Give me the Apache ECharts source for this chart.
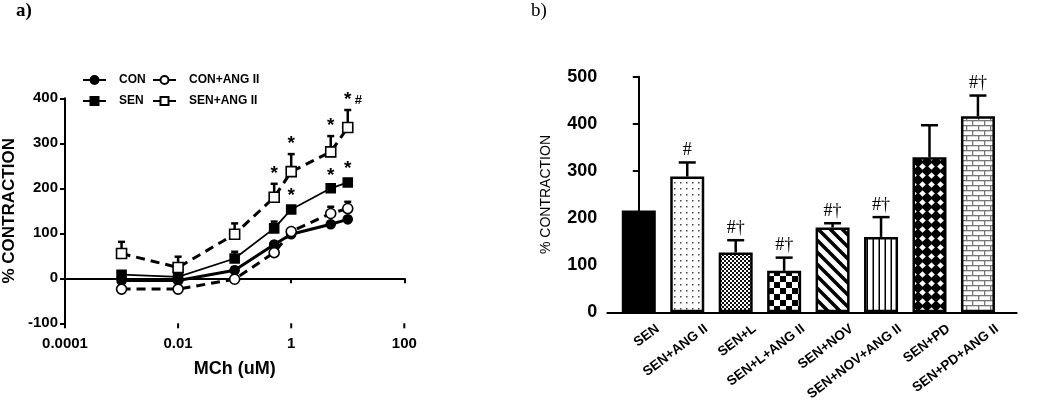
<!DOCTYPE html>
<html><head><meta charset="utf-8">
<script src="https://cdn.jsdelivr.net/npm/echarts@6/dist/echarts.min.js"></script>
<style>html,body{margin:0;padding:0;background:#fff}#c{width:1050px;height:409px}</style>
</head><body><div id="c"></div>
<script>
// ---------- Panel a data ----------
const doses = [0.001, 0.01, 0.1, 0.5, 1, 5, 10];
const conMean   = [-5, -5, 18, 75, 98, 120, 131];
const conTop    = [-2, -2, 25, 80, 103, 125, 136];
const conAngMean= [-24, -24, -2, 57, 104, 144, 155];
const conAngTop = [-20, -20, 2, 62, 109, 159, 170];
const senMean   = [8, 3, 44, 111, 153, 200, 213];
const senTop    = [15, 10, 59, 126, 160, 205, 220];
const senAngMean= [55, 24, 98, 180, 237, 281, 335];
const senAngTop = [81, 48, 122, 210, 276, 316, 374];
const senSig    = ['', '', '', '', '*', '*', '*'];
const senAngSig = ['', '', '', '*', '*', '*', '*#'];
const xTickValues = [0.0001, 0.01, 1, 100];
const xTickLabels = ['0.0001', '0.01', '1', '100'];
const seriesNamesA = ['CON', 'CON+ANG II', 'SEN', 'SEN+ANG II'];

// ---------- Panel b data ----------
const barCategories = ['SEN', 'SEN+ANG II', 'SEN+L', 'SEN+L+ANG II', 'SEN+NOV', 'SEN+NOV+ANG II', 'SEN+PD', 'SEN+PD+ANG II'];
const barValues = [216, 288, 127, 88, 180, 160, 329, 416];
const barErrTop = [216, 318, 153, 116, 189, 202, 397, 460];
const barSig    = ['', '#', '#†', '#†', '#†', '#†', '', '#†'];

const FONT = '"Liberation Sans", Arial, sans-serif';
const SERIF = '"Liberation Serif", "Times New Roman", serif';

function mk(w, h, draw) {
  const c = document.createElement('canvas'); c.width = w; c.height = h;
  const g = c.getContext('2d'); draw(g, w, h); return c;
}
const patterns = [
  '#000',
  { image: mk(6, 6, g => { g.fillStyle = '#fff'; g.fillRect(0,0,6,6); g.fillStyle = '#444'; g.fillRect(2,2,1.5,1.5); }), repeat: 'repeat' },
  { image: mk(4, 4, g => { g.fillStyle = '#fff'; g.fillRect(0,0,4,4); g.fillStyle = '#111'; g.fillRect(0,0,2,2); g.fillRect(2,2,2,2); }), repeat: 'repeat' },
  { image: mk(12, 12, g => { g.fillStyle = '#fff'; g.fillRect(0,0,12,12); g.fillStyle = '#000'; g.fillRect(0,0,6,6); g.fillRect(6,6,6,6); }), repeat: 'repeat' },
  { image: mk(12, 12, g => { g.fillStyle = '#fff'; g.fillRect(0,0,12,12); g.strokeStyle = '#000'; g.lineWidth = 3.5;
      [[-12,0],[0,0],[12,0]].forEach(o => { g.beginPath(); g.moveTo(o[0], -1); g.lineTo(o[0]+14, 13); g.stroke(); }); }), repeat: 'repeat' },
  { image: mk(6, 6, g => { g.fillStyle = '#fff'; g.fillRect(0,0,6,6); g.fillStyle = '#000'; g.fillRect(2.5,0,1.5,6); }), repeat: 'repeat' },
  { image: mk(9, 9, g => { g.fillStyle = '#000'; g.fillRect(0,0,9,9); g.fillStyle = '#fff'; g.beginPath();
      g.moveTo(4.5,1.2); g.lineTo(7.8,4.5); g.lineTo(4.5,7.8); g.lineTo(1.2,4.5); g.closePath(); g.fill(); }), repeat: 'repeat' },
  { image: mk(12, 10, g => { g.fillStyle = '#fff'; g.fillRect(0,0,12,10); g.fillStyle = '#777';
      g.fillRect(0,0,12,1.3); g.fillRect(0,5,12,1.3); g.fillRect(0,0,1.3,5); g.fillRect(6,5,1.3,5); }), repeat: 'repeat' }
];

function errRender(capW, lw) {
  return function (params, api) {
    const x = api.value(0), m = api.value(1), t = api.value(2);
    if (!(t > m)) return null;
    const p0 = api.coord([x, m]), p1 = api.coord([x, t]);
    const st = { stroke: '#000', lineWidth: lw };
    return { type: 'group', children: [
      { type: 'line', shape: { x1: p0[0], y1: p0[1], x2: p1[0], y2: p1[1] }, style: st },
      { type: 'line', shape: { x1: p1[0] - capW / 2, y1: p1[1], x2: p1[0] + capW / 2, y2: p1[1] }, style: st }
    ]};
  };
}
function sigRenderA(params, api) {
  const x = api.value(0), t = api.value(1);
  const txt = api.value(2);
  if (!txt) return null;
  const p = api.coord([x, t]);
  const main = txt.charAt(0), rest = txt.slice(1);
  const children = [{ type: 'text', x: p[0], y: p[1] - 1, style: { text: main, font: 'bold 19px ' + FONT, fill: '#000', align: 'center', verticalAlign: 'bottom' } }];
  if (rest) children.push({ type: 'text', x: p[0] + 7, y: p[1] - 3, style: { text: rest, font: 'bold 13px ' + FONT, fill: '#000', align: 'left', verticalAlign: 'bottom' } });
  return { type: 'group', children };
}
function sigRenderB(params, api) {
  const x = api.value(0), t = api.value(1);
  const txt = api.value(2);
  if (!txt) return null;
  const p = api.coord([x, t]);
  return { type: 'text', x: p[0], y: p[1] - 3, style: { text: txt, font: '18px ' + SERIF, fill: '#000', align: 'center', verticalAlign: 'bottom' } };
}
// x ticks of panel a (log axis)
function tickRenderA(params, api) {
  const p = api.coord([api.value(0), -100]);
  return { type: 'line', shape: { x1: p[0], y1: p[1], x2: p[0], y2: p[1] + 5 }, style: { stroke: '#000', lineWidth: 2 } };
}
// rotated category labels of panel b
function catLabelRender(params, api) {
  const i = api.value(0);
  const p = api.coord([i, 0]);
  return { type: 'text', x: p[0] + 19, y: p[1] + 15, rotation: 37 * Math.PI / 180,
    style: { text: barCategories[i], font: 'bold 13.5px ' + FONT, fill: '#000', align: 'right', verticalAlign: 'middle' } };
}

const means = [conMean, conAngMean, senMean, senAngMean];
const tops = [conTop, conAngTop, senTop, senAngTop];
const styleA = [
  { symbol: 'circle', size: 9, fill: '#000', lw: 3, type: 'solid' },
  { symbol: 'circle', size: 10, fill: '#fff', lw: 3, type: [9, 6] },
  { symbol: 'rect', size: 9, fill: '#000', lw: 1.8, type: 'solid' },
  { symbol: 'rect', size: 10, fill: '#fff', lw: 3, type: [9, 6] }
];

const series = [];
seriesNamesA.forEach((name, k) => {
  series.push({
    type: 'custom', xAxisIndex: 0, yAxisIndex: 0, z: 2, silent: true,
    renderItem: errRender(7, 2.5),
    data: doses.map((d, i) => [d, means[k][i], tops[k][i]])
  });
});
seriesNamesA.forEach((name, k) => {
  const s = styleA[k];
  series.push({
    name, type: 'line', xAxisIndex: 0, yAxisIndex: 0, z: 3,
    symbol: s.symbol, symbolSize: s.size, showAllSymbol: true,
    lineStyle: { color: '#000', width: s.lw, type: s.type },
    itemStyle: { color: s.fill, borderColor: '#000', borderWidth: 1.6 },
    data: doses.map((d, i) => [d, means[k][i]])
  });
});
series.push({ type: 'custom', xAxisIndex: 0, yAxisIndex: 0, z: 4, silent: true, renderItem: sigRenderA,
  data: doses.map((d, i) => [d, senTop[i], senSig[i]]) });
series.push({ type: 'custom', xAxisIndex: 0, yAxisIndex: 0, z: 4, silent: true, renderItem: sigRenderA,
  data: doses.map((d, i) => [d, senAngTop[i], senAngSig[i]]) });
series.push({ type: 'custom', xAxisIndex: 0, yAxisIndex: 0, z: 5, silent: true, clip: false, renderItem: tickRenderA,
  data: xTickValues.map(v => [v]) });

// panel b
series.push({
  type: 'bar', xAxisIndex: 1, yAxisIndex: 1, barWidth: 34, z: 2,
  data: barValues.map((v, i) => ({ value: [i, v], itemStyle: { color: patterns[i], borderColor: '#000', borderWidth: 2.5 } }))
});
series.push({ type: 'custom', xAxisIndex: 1, yAxisIndex: 1, z: 1, silent: true, renderItem: errRender(17, 2.5),
  data: barValues.map((v, i) => [i, v, barErrTop[i]]) });
series.push({ type: 'custom', xAxisIndex: 1, yAxisIndex: 1, z: 4, silent: true, renderItem: sigRenderB,
  data: barValues.map((v, i) => [i, barErrTop[i], barSig[i]]) });
series.push({ type: 'custom', xAxisIndex: 1, yAxisIndex: 1, z: 4, silent: true, clip: false, renderItem: catLabelRender,
  data: barCategories.map((c, i) => [i]) });

const legendCommon = {
  orient: 'vertical', itemWidth: 23, itemHeight: 10, itemGap: 9, padding: 0,
  textStyle: { fontFamily: FONT, fontWeight: 'bold', fontSize: 12, color: '#000', padding: [0, 0, 0, 8] },
  selectedMode: false
};

const option = {
  animation: false,
  backgroundColor: '#fff',
  title: [
    { text: 'a)', left: 16, top: 2, padding: 0, textStyle: { fontFamily: SERIF, fontWeight: 'bold', fontSize: 19, color: '#000' } },
    { text: 'b)', left: 531, top: 2, padding: 0, textStyle: { fontFamily: SERIF, fontWeight: 'normal', fontSize: 19, color: '#000' } }
  ],
  legend: [
    Object.assign({}, legendCommon, { data: ['CON', 'SEN'], left: 82, top: 74 }),
    Object.assign({}, legendCommon, { data: ['CON+ANG II', 'SEN+ANG II'], left: 152, top: 74 })
  ],
  grid: [
    { left: 65, top: 98.3, width: 339.3, height: 225, containLabel: false },
    { left: 607.3, top: 76.7, width: 409.4, height: 235.6, containLabel: false }
  ],
  xAxis: [
    {
      type: 'log', logBase: 10, gridIndex: 0, min: 0.0001, max: 100, interval: 2,
      name: 'MCh (uM)', nameLocation: 'middle', nameGap: 37,
      nameTextStyle: { fontFamily: FONT, fontWeight: 'bold', fontSize: 18, color: '#000' },
      axisLine: { lineStyle: { color: '#000', width: 2 } },
      axisTick: { show: true, length: 5, lineStyle: { color: '#000', width: 2 } },
      minorTick: { show: false },
      axisLabel: { margin: 13, fontFamily: FONT, fontWeight: 'bold', fontSize: 15, color: '#000',
        formatter: function (v) {
          let best = 0, bd = Infinity;
          xTickValues.forEach((t, i) => { const d = Math.abs(Math.log10(t) - Math.log10(v)); if (d < bd) { bd = d; best = i; } });
          return xTickLabels[best];
        } },
      splitLine: { show: false }
    },
    {
      type: 'value', gridIndex: 1, min: -0.65, max: 7.8,
      axisLine: { onZero: false, lineStyle: { color: '#000', width: 2 } },
      axisTick: { show: false },
      axisLabel: { show: false },
      splitLine: { show: false }
    }
  ],
  yAxis: [
    {
      type: 'value', gridIndex: 0, min: -100, max: 400, interval: 100,
      name: '% CONTRACTION', nameLocation: 'middle', nameGap: 47, nameRotate: 90,
      nameTextStyle: { fontFamily: FONT, fontWeight: 'bold', fontSize: 17, color: '#000' },
      axisLine: { show: true, lineStyle: { color: '#000', width: 2 } },
      axisTick: { show: true, length: 5, lineStyle: { color: '#000', width: 2 } },
      axisLabel: { margin: 7, fontFamily: FONT, fontWeight: 'bold', fontSize: 15, color: '#000' },
      splitLine: { show: false }
    },
    {
      type: 'value', gridIndex: 1, min: 0, max: 500, interval: 100,
      name: '% CONTRACTION', nameLocation: 'middle', nameGap: 54, nameRotate: 90,
      nameTextStyle: { fontFamily: FONT, fontWeight: 'normal', fontSize: 14, color: '#000' },
      axisLine: { show: true, lineStyle: { color: '#000', width: 2 } },
      axisTick: { show: true, length: 6, lineStyle: { color: '#000', width: 2 } },
      axisLabel: { margin: 10, fontFamily: FONT, fontWeight: 'bold', fontSize: 18, color: '#000' },
      splitLine: { show: false }
    }
  ],
  series
};
const chart = echarts.init(document.getElementById('c'), null, { renderer: 'canvas' });
chart.setOption(option);
</script></body></html>
